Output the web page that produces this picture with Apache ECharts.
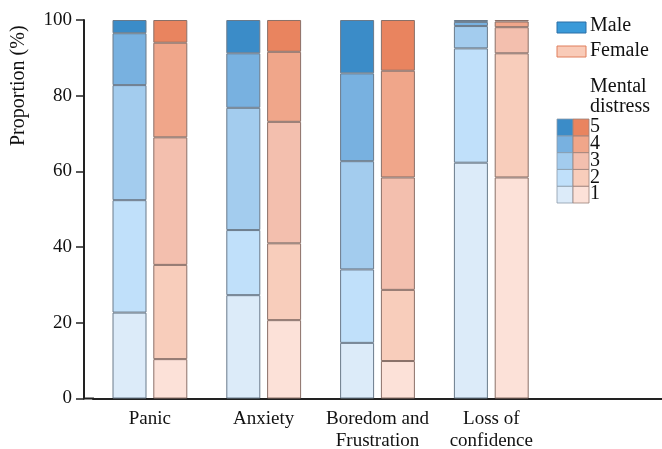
<!DOCTYPE html>
<html><head><meta charset="utf-8">
<script src="https://cdn.jsdelivr.net/npm/echarts@6/dist/echarts.min.js"></script>
<style>html,body{margin:0;padding:0;background:#fff}#c{width:662px;height:449px}</style>
</head><body><div id="c"></div>
<script>
var categories = ['Panic', 'Anxiety', 'Boredom and\nFrustration', 'Loss of\nconfidence', ''];
var yTicks = [0, 20, 40, 60, 80, 100];
var levels = ['1', '2', '3', '4', '5'];
// Male distress level proportions (%) per category
var male1 = [22.7, 27.3, 14.7, 62.3];
var male2 = [29.7, 17.2, 19.4, 30.2];
var male3 = [30.4, 32.3, 28.6, 5.9];
var male4 = [13.7, 14.4, 23.2, 1.1];
var male5 = [3.5, 8.8, 14.1, 0.5];
// Female distress level proportions (%) per category
var female1 = [10.4, 20.7, 9.9, 58.4];
var female2 = [24.9, 20.3, 18.8, 32.8];
var female3 = [33.7, 32.1, 29.7, 6.9];
var female4 = [25.0, 18.5, 28.2, 1.5];
var female5 = [6.0, 8.4, 13.4, 0.4];

var maleColors = ['#DCEBF9', '#C0E0FA', '#A3CCEE', '#78B1E0', '#3B8CC8'];
var femaleColors = ['#FCE1D8', '#F8CDBB', '#F3BFAE', '#F0A68A', '#E9845F'];
var maleData = [male1, male2, male3, male4, male5];
var femaleData = [female1, female2, female3, female4, female5];

var FONT = '"Liberation Serif", "Times New Roman", serif';
var series = [];
levels.forEach(function (lv, i) {
  series.push({
    name: 'Male ' + lv, type: 'bar', stack: 'male', barWidth: 34, barGap: '20%',
    data: maleData[i],
    itemStyle: { color: maleColors[i], borderColor: '#6a7a8a', borderWidth: 1 },
    emphasis: { disabled: true }
  });
});
levels.forEach(function (lv, i) {
  series.push({
    name: 'Female ' + lv, type: 'bar', stack: 'female', barWidth: 34, barGap: '20%',
    data: femaleData[i],
    itemStyle: { color: femaleColors[i], borderColor: '#8a7068', borderWidth: 1 },
    emphasis: { disabled: true }
  });
});

// Legend graphics
var graphics = [
  { type: 'rect', shape: { x: 557, y: 22, width: 29, height: 11 }, style: { fill: '#3A9AD9', stroke: '#2A6FA6', lineWidth: 1 } },
  { type: 'text', left: 590, top: 16, style: { text: 'Male', font: '20px ' + FONT, fill: '#111' } },
  { type: 'rect', shape: { x: 557, y: 46, width: 29, height: 11 }, style: { fill: '#F9CBB8', stroke: '#E07E5C', lineWidth: 1 } },
  { type: 'text', left: 590, top: 41, style: { text: 'Female', font: '20px ' + FONT, fill: '#111' } },
  { type: 'text', left: 590, top: 77, style: { text: 'Mental\ndistress', font: '20px ' + FONT, fill: '#111', lineHeight: 20 } },
  { type: 'text', rotation: Math.PI / 2, x: 9, y: 146, style: { text: 'Proportion (%)', font: '20px ' + FONT, fill: '#111' } },
  { type: 'line', shape: { x1: 83, y1: 398.5, x2: 94, y2: 398.5 }, style: { stroke: '#222', lineWidth: 2 } }
];
for (var k = 0; k < 5; k++) {
  var yy = 119 + (4 - k) * 16.8;
  graphics.push({ type: 'rect', shape: { x: 557, y: yy, width: 16, height: 16.8 }, style: { fill: maleColors[k], stroke: '#8a9aaa', lineWidth: 0.8 } });
  graphics.push({ type: 'rect', shape: { x: 573, y: yy, width: 16, height: 16.8 }, style: { fill: femaleColors[k], stroke: '#9a8078', lineWidth: 0.8 } });
  graphics.push({ type: 'text', left: 590, top: yy - 2, style: { text: levels[k], font: '20px ' + FONT, fill: '#111' } });
}

var chart = echarts.init(document.getElementById('c'));
chart.setOption({
  animation: false,
  backgroundColor: '#fff',
  grid: { left: 93, right: 0, top: 20, bottom: 50.5, containLabel: false, outerBoundsMode: 'none' },
  xAxis: {
    type: 'category', data: categories,
    axisLine: { lineStyle: { color: '#222', width: 2 } },
    axisTick: { show: false },
    axisLabel: { interval: 0, fontFamily: FONT, fontSize: 19, color: '#111', margin: 10, lineHeight: 22 }
  },
  yAxis: {
    type: 'value', min: yTicks[0], max: yTicks[yTicks.length - 1], interval: 20, offset: 9,
    axisLine: { show: true, lineStyle: { color: '#222', width: 2 } },
    axisTick: { show: true, inside: false, length: 8, lineStyle: { color: '#222', width: 1.5 } },
    axisLabel: { fontFamily: FONT, fontSize: 19, color: '#111', margin: 12 },
    splitLine: { show: false }
  },
  series: series,
  graphic: graphics
});
</script></body></html>
